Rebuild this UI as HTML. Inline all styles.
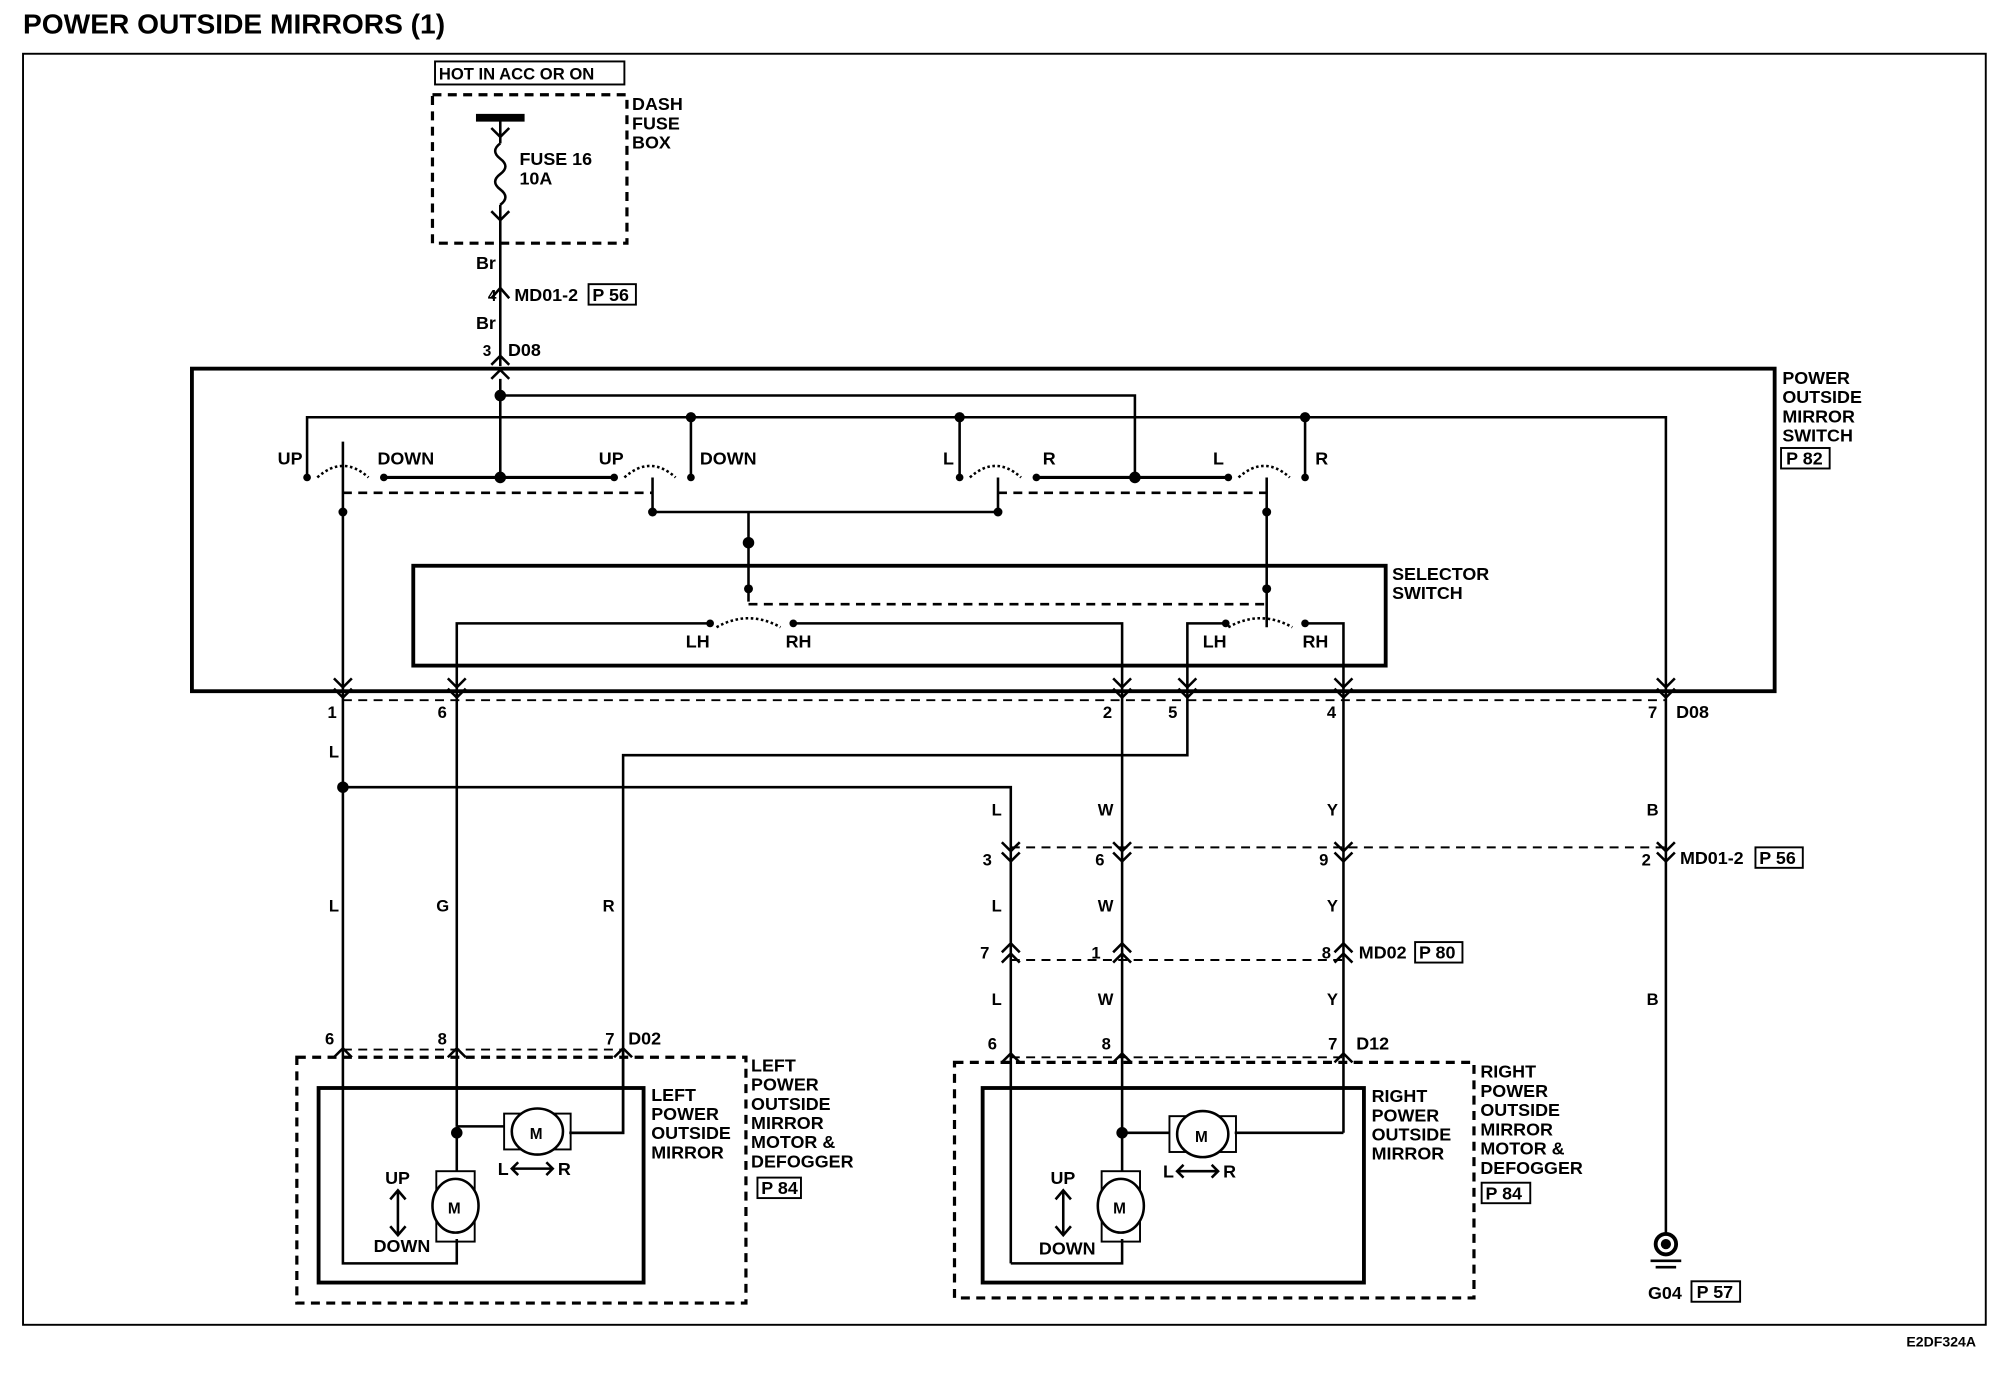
<!DOCTYPE html>
<html><head><meta charset="utf-8"><style>
html,body{margin:0;padding:0;background:#fff}
svg{display:block}
text{font-family:"Liberation Sans",Arial,sans-serif;font-weight:bold;fill:#000}
</style></head><body>
<svg width="1996" height="1376" viewBox="0 0 1560 1075" preserveAspectRatio="none" xmlns="http://www.w3.org/2000/svg">
<g fill="none" stroke="#000" stroke-width="2">
<!-- outer border -->
<rect x="18" y="42" width="1534" height="993" stroke-width="1.5"/>
<!-- hot box -->
<rect x="340" y="48" width="148" height="18" stroke-width="1.5"/>
<!-- fuse box dashed -->
<rect x="338" y="74" width="152" height="116" stroke-dasharray="7,5" stroke-width="2.5"/>
<line x1="372" y1="92" x2="410" y2="92" stroke-width="6"/>
<path d="M391 92 V112 M391 112 q-8 6 0 12 q8 6 0 12 q-8 6 0 12 q8 6 0 12 M391 160 V286"/>
<polyline points="384,100 391,107 398,100"/><polyline points="384,165 391,172 398,165"/>
<polyline points="384,233 391,225 398,233"/>
<polyline points="384,285 391,278 398,285"/><polyline points="384,296 391,289 398,296"/>
<rect x="460" y="222" width="37" height="16" stroke-width="1.5"/>
<!-- switch box -->
<rect x="150" y="288" width="1237" height="252" stroke-width="3"/>
<rect x="323" y="442" width="760" height="78" stroke-width="3"/>
<rect x="1392" y="350" width="38" height="16" stroke-width="1.5"/>
<!-- internal wiring -->
<path d="M391 296 V373 M391 309 H887 V373 M240 373 V326 H1302 V540 M540 326 V373 M750 326 V373 M1020 326 V373"/>
<path d="M300 373 H480 M810 373 H960" stroke-width="2.5"/>
<path d="M268 345 V540 M510 373 V400 H780 V373 M585 400 V470 M990 373 V490"/>
<path d="M248 373 q20 -18 40 0 M488 373 q20 -18 40 0 M758 373 q20 -18 40 0 M968 373 q20 -18 40 0" stroke-dasharray="2,2"/>
<path d="M268 385 H510 M780 385 H990" stroke-dasharray="7,5"/>
<path d="M585 472 H990" stroke-dasharray="7,5"/>
<path d="M357 540 V487 H555 M620 487 H877 V540 M928 540 V487 H958 M1022 487 H1050 V540"/>
<path d="M560 490 q25 -14 50 0 M960 490 q25 -14 50 0" stroke-dasharray="2,2"/>
<!-- outputs -->
<path d="M268 540 V820 M357 540 V880 M877 540 V885 M1050 540 V885 M1302 540 V965"/>
<path d="M268 615 H790 V987 M928 540 V590 H487 V885 H445 M268 987 H268"/>
<path d="M268 547 H1302" stroke-dasharray="7,5" stroke-width="1.5"/>
<path d="M790 662 H1302 M790 750 H1050 M268 820 H487 M790 826 H1050" stroke-dasharray="7,5" stroke-width="1.5"/>
<!-- left mirror -->
<rect x="232" y="826" width="351" height="192" stroke-dasharray="7,5" stroke-width="2.5"/>
<rect x="249" y="850" width="254" height="152" stroke-width="3"/>
<path d="M268 820 V987 H357 V968 M357 880 H394 M445 885 H487 V822 M357 880 V915"/>
<rect x="394" y="870" width="52" height="28" stroke-width="1.5"/><ellipse cx="420" cy="884" rx="20" ry="18" fill="#fff"/>
<rect x="341" y="915" width="30" height="55" stroke-width="1.5"/><ellipse cx="356" cy="942" rx="18" ry="21" fill="#fff"/>
<path d="M311 930 V965 M305 937 L311 930 L317 937 M305 958 L311 965 L317 958"/>
<path d="M400 913 H432 M405 908 L400 913 L405 918 M427 908 L432 913 L427 918"/>
<!-- right mirror -->
<rect x="746" y="830" width="406" height="184" stroke-dasharray="7,5" stroke-width="2.5"/>
<rect x="768" y="850" width="298" height="152" stroke-width="3"/>
<path d="M790 987 H877 V968 M877 885 H914 M965 885 H1050 M877 885 V915"/>
<rect x="914" y="872" width="52" height="28" stroke-width="1.5"/><ellipse cx="940" cy="886" rx="20" ry="18" fill="#fff"/>
<rect x="861" y="915" width="30" height="55" stroke-width="1.5"/><ellipse cx="876" cy="942" rx="18" ry="21" fill="#fff"/>
<path d="M831 930 V965 M825 937 L831 930 L837 937 M825 958 L831 965 L837 958"/>
<path d="M920 915 H952 M925 910 L920 915 L925 920 M947 910 L952 915 L947 920"/>
<!-- ground -->
<circle cx="1302" cy="972" r="8" stroke-width="3"/><circle cx="1302" cy="972" r="3" fill="#000"/>
<path d="M1290 985 H1314 M1294 990 H1310" stroke-width="2"/>
<rect x="1322" y="1001" width="38" height="16" stroke-width="1.5"/>
<rect x="1372" y="662" width="37" height="16" stroke-width="1.5"/>
<rect x="1106" y="736" width="37" height="16" stroke-width="1.5"/>
<rect x="592" y="920" width="34" height="16" stroke-width="1.5"/>
<rect x="1158" y="924" width="38" height="16" stroke-width="1.5"/>
</g>
<g fill="none" stroke="#000" stroke-width="2">
<!-- down chevrons at switch bottom -->
<polyline points="261,530 268,537 275,530"/><polyline points="261,538 268,545 275,538"/>
<polyline points="350,530 357,537 364,530"/><polyline points="350,538 357,545 364,538"/>
<polyline points="870,530 877,537 884,530"/><polyline points="870,538 877,545 884,538"/>
<polyline points="921,530 928,537 935,530"/><polyline points="921,538 928,545 935,538"/>
<polyline points="1043,530 1050,537 1057,530"/><polyline points="1043,538 1050,545 1057,538"/>
<polyline points="1295,530 1302,537 1309,530"/><polyline points="1295,538 1302,545 1309,538"/>
<!-- MD01-2 -->
<polyline points="783,658 790,665 797,658"/><polyline points="783,666 790,673 797,666"/>
<polyline points="870,658 877,665 884,658"/><polyline points="870,666 877,673 884,666"/>
<polyline points="1043,658 1050,665 1057,658"/><polyline points="1043,666 1050,673 1057,666"/>
<polyline points="1295,658 1302,665 1309,658"/><polyline points="1295,666 1302,673 1309,666"/>
<!-- MD02 up -->
<polyline points="783,744 790,737 797,744"/><polyline points="783,752 790,745 797,752"/>
<polyline points="870,744 877,737 884,744"/><polyline points="870,752 877,745 884,752"/>
<polyline points="1043,744 1050,737 1057,744"/><polyline points="1043,752 1050,745 1057,752"/>
<!-- mirror connectors up -->
<polyline points="261,826 268,819 275,826"/><polyline points="350,826 357,819 364,826"/><polyline points="480,826 487,819 494,826"/>
<polyline points="783,830 790,823 797,830"/><polyline points="870,830 877,823 884,830"/><polyline points="1043,830 1050,823 1057,830"/>
</g>
<g fill="#000">
<circle cx="391" cy="309" r="4.5"/><circle cx="391" cy="373" r="4.5"/><circle cx="540" cy="326" r="4"/><circle cx="750" cy="326" r="4"/>
<circle cx="1020" cy="326" r="4"/><circle cx="887" cy="373" r="4.5"/><circle cx="585" cy="424" r="4.5"/>
<circle cx="240" cy="373" r="3"/><circle cx="300" cy="373" r="3"/><circle cx="480" cy="373" r="3"/><circle cx="540" cy="373" r="3"/>
<circle cx="750" cy="373" r="3"/><circle cx="810" cy="373" r="3"/><circle cx="960" cy="373" r="3"/><circle cx="1020" cy="373" r="3"/>
<circle cx="268" cy="400" r="3.5"/><circle cx="510" cy="400" r="3.5"/><circle cx="780" cy="400" r="3.5"/><circle cx="990" cy="400" r="3.5"/>
<circle cx="585" cy="460" r="3.5"/><circle cx="990" cy="460" r="3.5"/><circle cx="555" cy="487" r="3"/><circle cx="620" cy="487" r="3"/>
<circle cx="958" cy="487" r="3"/><circle cx="1020" cy="487" r="3"/>
<circle cx="268" cy="615" r="4.5"/><circle cx="357" cy="885" r="4.5"/><circle cx="877" cy="885" r="4.5"/>
</g>
<text x="18" y="26" font-size="22">POWER OUTSIDE MIRRORS (1)</text>
<g font-size="14">
<text x="343" y="62" font-weight="normal" font-size="13">HOT IN ACC OR ON</text>
<text x="494" y="86">DASH</text><text x="494" y="101">FUSE</text><text x="494" y="116">BOX</text>
<text x="406" y="129">FUSE 16</text><text x="406" y="144">10A</text>
<text x="372" y="210" font-weight="normal">Br</text><text x="372" y="257" font-weight="normal">Br</text>
<text x="388" y="235" font-weight="normal" font-size="12" text-anchor="end">4</text><text x="402" y="235">MD01-2</text><text x="463" y="235">P 56</text>
<text x="384" y="278" font-weight="normal" font-size="12" text-anchor="end">3</text><text x="397" y="278">D08</text>
<text x="1393" y="300">POWER</text><text x="1393" y="315">OUTSIDE</text><text x="1393" y="330">MIRROR</text><text x="1393" y="345">SWITCH</text><text x="1396" y="363">P 82</text>
<g font-weight="normal">
<text x="217" y="363">UP</text><text x="295" y="363">DOWN</text><text x="468" y="363">UP</text><text x="547" y="363">DOWN</text>
<text x="737" y="363">L</text><text x="815" y="363">R</text><text x="948" y="363">L</text><text x="1028" y="363">R</text>
<text x="536" y="506">LH</text><text x="614" y="506">RH</text><text x="940" y="506">LH</text><text x="1018" y="506">RH</text>
</g>
<text x="1088" y="453">SELECTOR</text><text x="1088" y="468">SWITCH</text>
<g font-weight="normal" font-size="13">
<text x="256" y="561">1</text><text x="342" y="561">6</text><text x="862" y="561">2</text><text x="913" y="561">5</text><text x="1037" y="561">4</text><text x="1288" y="561">7</text>
<text x="257" y="592">L</text><text x="257" y="712">L</text><text x="341" y="712">G</text><text x="471" y="712">R</text>
<text x="775" y="637">L</text><text x="858" y="637">W</text><text x="1037" y="637">Y</text><text x="1287" y="637">B</text>
<text x="768" y="676">3</text><text x="856" y="676">6</text><text x="1031" y="676">9</text><text x="1283" y="676">2</text>
<text x="775" y="712">L</text><text x="858" y="712">W</text><text x="1037" y="712">Y</text>
<text x="766" y="749">7</text><text x="853" y="749">1</text><text x="1033" y="749">8</text>
<text x="775" y="785">L</text><text x="858" y="785">W</text><text x="1037" y="785">Y</text><text x="1287" y="785">B</text>
<text x="254" y="816">6</text><text x="342" y="816">8</text><text x="473" y="816">7</text>
<text x="772" y="820">6</text><text x="861" y="820">8</text><text x="1038" y="820">7</text>
</g>
<text x="1310" y="561">D08</text>
<text x="1313" y="675">MD01-2</text><text x="1375" y="675">P 56</text>
<text x="1062" y="749">MD02</text><text x="1109" y="749">P 80</text>
<text x="491" y="816">D02</text><text x="1060" y="820">D12</text>
<text x="587" y="837">LEFT</text><text x="587" y="852">POWER</text><text x="587" y="867">OUTSIDE</text><text x="587" y="882">MIRROR</text><text x="587" y="897">MOTOR &amp;</text><text x="587" y="912">DEFOGGER</text><text x="595" y="933">P 84</text>
<text x="509" y="860">LEFT</text><text x="509" y="875">POWER</text><text x="509" y="890">OUTSIDE</text><text x="509" y="905">MIRROR</text>
<text x="1157" y="842">RIGHT</text><text x="1157" y="857">POWER</text><text x="1157" y="872">OUTSIDE</text><text x="1157" y="887">MIRROR</text><text x="1157" y="902">MOTOR &amp;</text><text x="1157" y="917">DEFOGGER</text><text x="1161" y="937">P 84</text>
<text x="1072" y="861">RIGHT</text><text x="1072" y="876">POWER</text><text x="1072" y="891">OUTSIDE</text><text x="1072" y="906">MIRROR</text>
<text x="414" y="890" font-size="12">M</text><text x="350" y="948" font-size="12">M</text>
<text x="934" y="892" font-size="12">M</text><text x="870" y="948" font-size="12">M</text>
<g font-weight="normal">
<text x="301" y="925">UP</text><text x="292" y="978">DOWN</text><text x="389" y="918">L</text><text x="436" y="918">R</text>
<text x="821" y="925">UP</text><text x="812" y="980">DOWN</text><text x="909" y="920">L</text><text x="956" y="920">R</text>
</g>
<text x="1288" y="1015">G04</text><text x="1326" y="1014">P 57</text>
<text x="1490" y="1052" font-size="11">E2DF324A</text>
</g>
</svg>
</body></html>
